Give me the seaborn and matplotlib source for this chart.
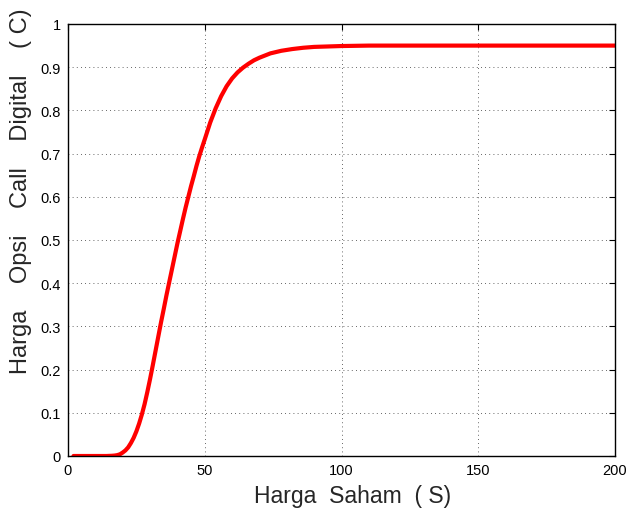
import matplotlib
matplotlib.use("Agg")
import matplotlib.pyplot as plt
import seaborn as sns
import pandas as pd

S_values = [2, 10, 14, 16, 17, 18, 19, 20, 21, 22, 23, 24, 25, 26, 27, 28, 29, 30,
            31, 32, 33, 34, 35, 36, 37, 38, 39, 40, 41, 42, 43, 44, 45, 46, 47, 48,
            49, 50, 52, 54, 56, 58, 60, 62, 64, 66, 68, 70, 74, 78, 82, 86, 90, 95,
            100, 110, 120, 150, 200]
C_values = [0.0, 0.0, 0.0, 0.0005, 0.001, 0.002, 0.004, 0.008, 0.013, 0.02, 0.03,
            0.042, 0.057, 0.075, 0.096, 0.12, 0.148, 0.178, 0.21, 0.243, 0.276, 0.309,
            0.34, 0.372, 0.402, 0.432, 0.462, 0.492, 0.52, 0.548, 0.575, 0.60, 0.625,
            0.648, 0.672, 0.694, 0.714, 0.733, 0.772, 0.805, 0.833, 0.856, 0.874, 0.888,
            0.899, 0.908, 0.916, 0.922, 0.932, 0.938, 0.942, 0.945, 0.947, 0.948, 0.949,
            0.95, 0.95, 0.95, 0.95]
x_ticks = [0, 50, 100, 150, 200]
y_ticks = [0, 0.1, 0.2, 0.3, 0.4, 0.5, 0.6, 0.7, 0.8, 0.9, 1]
y_tick_labels = ["0", "0.1", "0.2", "0.3", "0.4", "0.5", "0.6", "0.7", "0.8", "0.9", "1"]
x_label = "Harga  Saham  ( S)"
y_label = "Harga    Opsi    Call    Digital    ( C)"

sns.set_style("white")
plt.rcParams['font.family'] = ['Liberation Sans', 'DejaVu Sans']

df = pd.DataFrame({"S": S_values, "C": C_values})

fig = plt.figure(figsize=(6.32, 5.10), dpi=100)
ax = fig.add_axes([68/632, 53/510, 547/632, 432/510])
sns.lineplot(data=df, x="S", y="C", ax=ax, color="#ff0000", linewidth=3.0)

ax.set_xlim(0, 200)
ax.set_ylim(0, 1)
ax.set_xticks(x_ticks)
ax.set_xticklabels([str(t) for t in x_ticks])
ax.set_yticks(y_ticks)
ax.set_yticklabels(y_tick_labels)
ax.grid(True, linestyle=(0, (1, 4)), color="black", linewidth=0.6, alpha=0.8)
ax.tick_params(direction="in", length=4, width=0.8, top=True, right=True,
               labelsize=10.5, colors="black", pad=5)
for sp in ax.spines.values():
    sp.set_visible(True)
    sp.set_color("black")
    sp.set_linewidth(1.0)
ax.set_xlabel(x_label, fontsize=16.5, labelpad=4)
ax.set_ylabel(y_label, fontsize=17)
ax.yaxis.set_label_coords(-0.066, 0.616)
ax.xaxis.set_label_coords(0.52, -0.065)

fig.savefig("out.png", dpi=100)
